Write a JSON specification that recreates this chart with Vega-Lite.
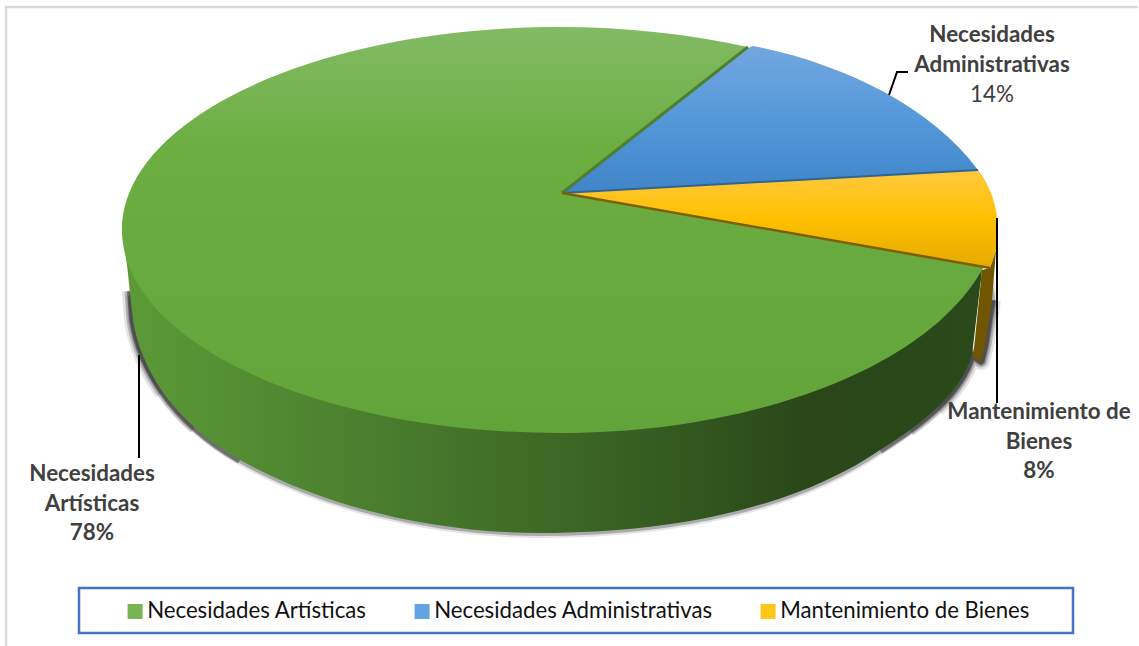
{
"$schema":"https://vega.github.io/schema/vega-lite/v6.json",
"width":1138,"height":646,"padding":0,"autosize":"none","background":"white",
"config":{"view":{"stroke":null}},
"data":{"values":[
{"category":"Necesidades Artísticas","share":0.78,"label":"Necesidades\nArtísticas"},
{"category":"Necesidades Administrativas","share":0.14,"label":"Necesidades\nAdministrativas"},
{"category":"Mantenimiento de Bienes","share":0.08,"label":"Mantenimiento de\nBienes"}
]},
"layer":[
{"data":{"values":[{"element":"frame"}]},"mark":{"type":"point","shape":"M569,-316L-563,-316L-563,323","size":4,"filled":false,"stroke":"#D9D9D9","strokeWidth":2.5,"opacity":1}},
{"data":{"values":[{"element":"legend box"}]},"mark":{"type":"point","shape":"M-490,265L504,265L504,310L-490,310Z","size":4,"filled":false,"stroke":"#4472C4","strokeWidth":2.5,"opacity":1}},
{"transform":[{"filter":"datum.share==0.78"}],"mark":{"type":"point","shape":"M-428,-50L-438,-25L-436,-3C-429,42 -399,97 -329,137C-249,182 -139,210 -29,210C111,210 231,182 311,127C351,102 391,72 403,32L412,38L416,22L423,-23L420,-45Z","size":4,"filled":false,"stroke":"#000","strokeWidth":10,"strokeJoin":"round","opacity":0.1}},
{"transform":[{"filter":"datum.share==0.78"}],"mark":{"type":"point","shape":"M-428,-50L-438,-25L-436,-3C-429,42 -399,97 -329,137C-249,182 -139,210 -29,210C111,210 231,182 311,127C351,102 391,72 403,32L412,38L416,22L423,-23L420,-45Z","size":4,"filled":false,"stroke":"#000","strokeWidth":6,"strokeJoin":"round","opacity":0.25}},
{"transform":[{"filter":"datum.share==0.78"}],"mark":{"type":"point","shape":"M-438,-32L-436,-3C-432.5,19.5 -423.25,44.5 -406,68.9","size":4,"filled":false,"stroke":"#000","strokeWidth":18,"strokeJoin":"round","opacity":0.1}},
{"transform":[{"filter":"datum.share==0.78"}],"mark":{"type":"point","shape":"M-438,-32L-436,-3C-432.5,19.5 -423.25,44.5 -406,68.9C-397.5,81 -387,93 -374,104.6","size":4,"filled":false,"stroke":"#000","strokeWidth":13,"strokeJoin":"round","opacity":0.2}},
{"transform":[{"filter":"datum.share==0.78"}],"mark":{"type":"point","shape":"M-438,-32L-436,-3C-429,42 -399,97 -329,137","size":4,"filled":false,"stroke":"#000","strokeWidth":8,"strokeJoin":"round","opacity":0.35}},
{"transform":[{"filter":"datum.share==0.78"}],"mark":{"type":"point","shape":"M367.5,85C384,69.5 397,52 403,32L412,38L416,22L423,-23","size":4,"filled":false,"stroke":"#000","strokeWidth":18,"strokeJoin":"round","opacity":0.1}},
{"transform":[{"filter":"datum.share==0.78"}],"mark":{"type":"point","shape":"M340.5,107C350,100.3 359,93 367.5,85C384,69.5 397,52 403,32L412,38L416,22L423,-23","size":4,"filled":false,"stroke":"#000","strokeWidth":13,"strokeJoin":"round","opacity":0.2}},
{"transform":[{"filter":"datum.share==0.78"}],"mark":{"type":"point","shape":"M311,127C351,102 391,72 403,32L412,38L416,22L423,-23","size":4,"filled":false,"stroke":"#000","strokeWidth":8,"strokeJoin":"round","opacity":0.35}},
{"transform":[{"filter":"datum.share==0.78"}],"mark":{"type":"point","shape":"M-447,-93L-442,-58L-436,-3C-429,42 -399,97 -329,137C-249,182 -139,210 -29,210C111,210 231,182 311,127C351,102 391,72 403,32L413,-53Z","size":4,"filled":true,"opacity":1,"strokeWidth":0,"fill":{"gradient":"linear","x1":0,"y1":0,"x2":1,"y2":0,"stops":[{"offset":0,"color":"#5C9A38"},{"offset":0.3,"color":"#4A7D2D"},{"offset":0.6,"color":"#365E22"},{"offset":0.8,"color":"#294719"},{"offset":1,"color":"#2A4A1B"}]}}},
{"transform":[{"filter":"datum.share==0.08"}],"mark":{"type":"point","shape":"M413,-53L421,-55L427,-73L423,-23L416,22L412,38L404,35Z","size":4,"filled":true,"opacity":1,"strokeWidth":0,"fill":"#705600"}},
{"transform":[{"filter":"datum.share==0.78"}],"mark":{"type":"point","shape":"M-7,-130L415,-56L413,-53C356,47 181,110 -9,110C-251,110 -447,19 -447,-93C-447,-205 -251,-296 -9,-296C56,-296 121,-289 179,-276Z","size":4,"filled":true,"opacity":1,"strokeWidth":0,"fill":{"gradient":"linear","x1":0,"y1":0,"x2":0,"y2":1,"stops":[{"offset":0,"color":"#83BA64"},{"offset":0.3,"color":"#6CAE42"},{"offset":1,"color":"#62A43A"}]}}},
{"transform":[{"filter":"datum.share==0.14"}],"mark":{"type":"point","shape":"M-7,-130L181,-276L184,-277C271,-260 361,-218 409,-153Z","size":4,"filled":true,"opacity":1,"strokeWidth":0,"fill":{"gradient":"linear","x1":0,"y1":0,"x2":0,"y2":1,"stops":[{"offset":0,"color":"#71A7DF"},{"offset":0.5,"color":"#5598DA"},{"offset":1,"color":"#3F85C7"}]}}},
{"transform":[{"filter":"datum.share==0.08"}],"mark":{"type":"point","shape":"M-7,-130L409,-153C421,-138 428,-118 429,-95C429,-78 426,-68 421,-55Z","size":4,"filled":true,"opacity":1,"strokeWidth":0,"fill":{"gradient":"linear","x1":0,"y1":0,"x2":0,"y2":1,"stops":[{"offset":0,"color":"#FFC93F"},{"offset":0.5,"color":"#FFC000"},{"offset":1,"color":"#E3AA00"}]}}},
{"transform":[{"filter":"datum.share==0.78"}],"mark":{"type":"point","shape":"M179,-276L-7,-130","size":4,"filled":false,"opacity":1,"stroke":"#4E7F2F","strokeWidth":3}},
{"transform":[{"filter":"datum.share==0.14"}],"mark":{"type":"point","shape":"M-7,-130L409,-153","size":4,"filled":false,"opacity":1,"stroke":"#2F6496","strokeWidth":2}},
{"transform":[{"filter":"datum.share==0.08"}],"mark":{"type":"point","shape":"M-7,-130L421,-55","size":4,"filled":false,"opacity":1,"stroke":"#7F6000","strokeWidth":2.5}},
{"transform":[{"filter":"datum.share==0.78"}],"mark":{"type":"point","shape":"M-430,32L-430,135","size":4,"filled":false,"opacity":1,"stroke":"#000","strokeWidth":2}},
{"transform":[{"filter":"datum.share==0.14"}],"mark":{"type":"point","shape":"M320,-228L328,-251L339,-251","size":4,"filled":false,"opacity":1,"stroke":"#000","strokeWidth":2}},
{"transform":[{"filter":"datum.share==0.08"}],"mark":{"type":"point","shape":"M428,-105L428,80","size":4,"filled":false,"opacity":1,"stroke":"#000","strokeWidth":2}},
{"transform":[{"filter":"datum.share==0.78"}],"mark":{"type":"text","font":"Lato","fontSize":22.4,"fontWeight":"bold","fill":"#404040","align":"center","baseline":"middle","lineBreak":"\n","lineHeight":30,"dx":-477,"dy":151},"encoding":{"text":{"field":"label"}}},
{"transform":[{"filter":"datum.share==0.78"}],"mark":{"type":"text","font":"Lato","fontSize":22.4,"fontWeight":"bold","fill":"#404040","align":"center","baseline":"middle","dx":-477,"dy":210},"encoding":{"text":{"field":"share","format":".0%"}}},
{"transform":[{"filter":"datum.share==0.14"}],"mark":{"type":"text","font":"Lato","fontSize":22.4,"fontWeight":"bold","fill":"#404040","align":"center","baseline":"middle","lineBreak":"\n","lineHeight":30,"dx":423,"dy":-288},"encoding":{"text":{"field":"label"}}},
{"transform":[{"filter":"datum.share==0.14"}],"mark":{"type":"text","font":"Lato","fontSize":22.4,"fontWeight":"normal","fill":"#404040","align":"center","baseline":"middle","dx":423,"dy":-228},"encoding":{"text":{"field":"share","format":".0%"}}},
{"transform":[{"filter":"datum.share==0.08"}],"mark":{"type":"text","font":"Lato","fontSize":22.4,"fontWeight":"bold","fill":"#404040","align":"center","baseline":"middle","lineBreak":"\n","lineHeight":30,"dx":470,"dy":89},"encoding":{"text":{"field":"label"}}},
{"transform":[{"filter":"datum.share==0.08"}],"mark":{"type":"text","font":"Lato","fontSize":22.4,"fontWeight":"bold","fill":"#404040","align":"center","baseline":"middle","dx":470,"dy":148},"encoding":{"text":{"field":"share","format":".0%"}}},
{"mark":{"type":"square","size":0,"opacity":1},"encoding":{"color":{"field":"category","type":"nominal","sort":null,"scale":{"domain":["Necesidades Artísticas","Necesidades Administrativas","Mantenimiento de Bienes"],"range":["#78B454","#61A3E3","#FFC61A"]},"legend":{"title":null,"orient":"none","legendX":124,"legendY":600,"direction":"horizontal","columns":3,"symbolType":"square","symbolSize":225,"symbolStrokeWidth":0,"labelFont":"Lato","labelFontSize":22.2,"labelColor":"#111111","labelOffset":1,"columnPadding":44,"padding":0,"labelLimit":400}}}}
]
}
